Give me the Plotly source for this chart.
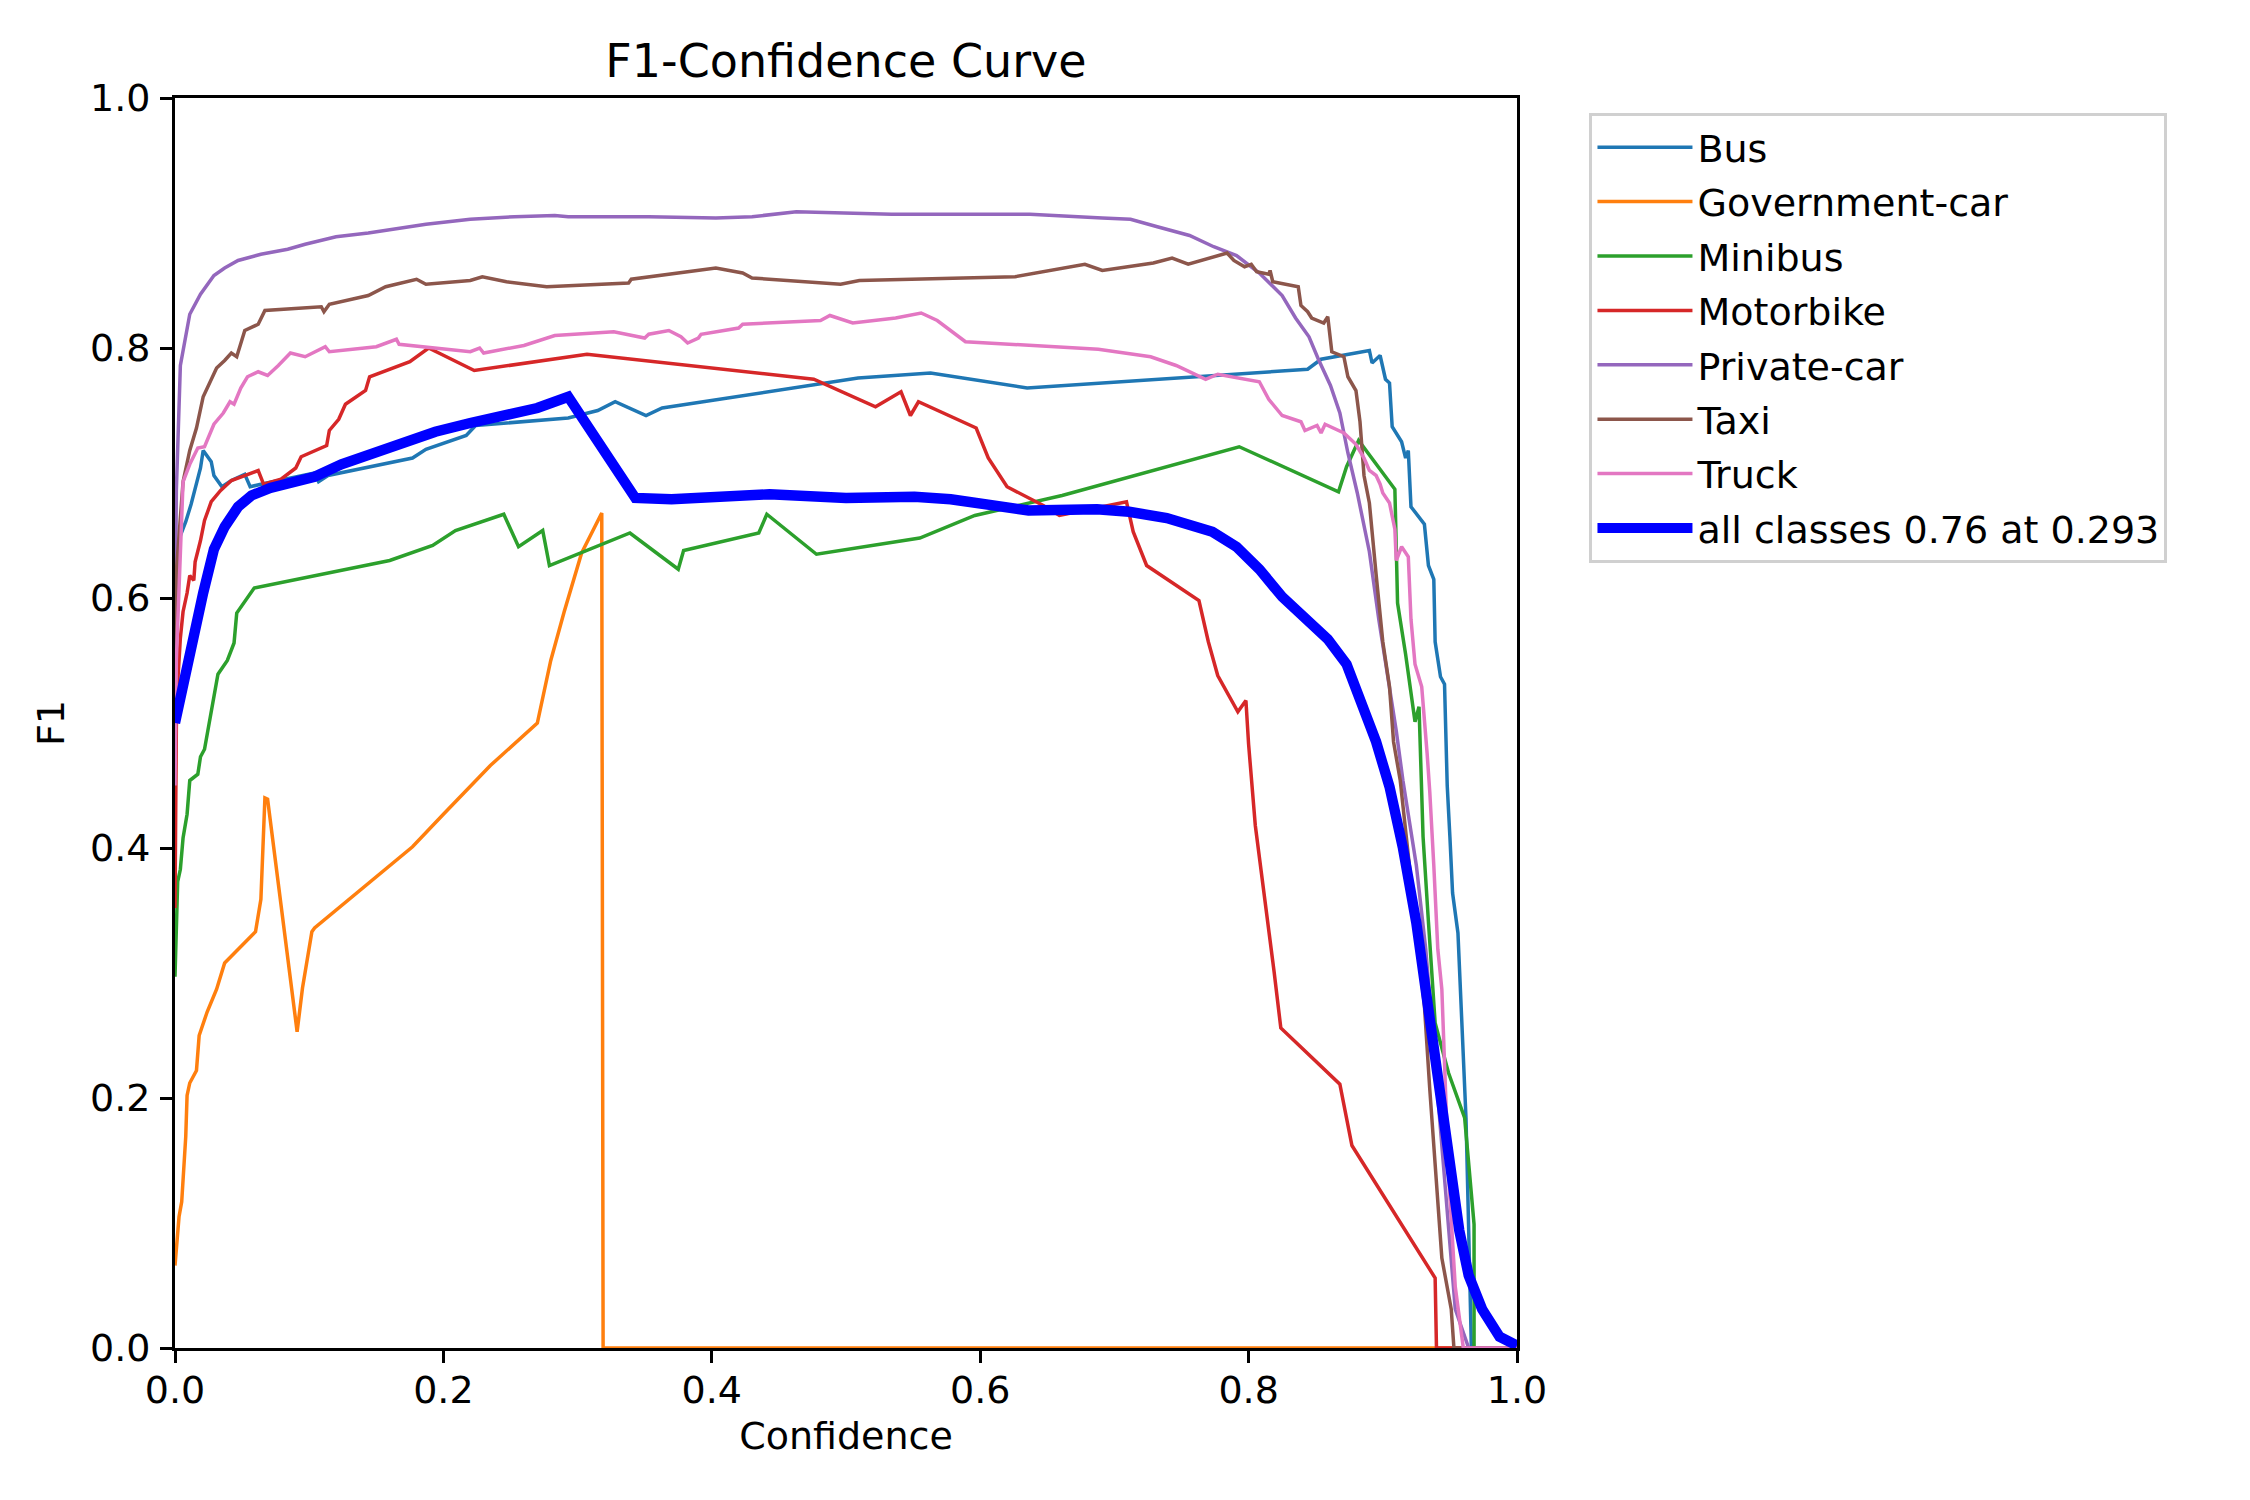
import plotly.graph_objects as go

# ---- data (confidence, F1) ----
BUS = [(0.0,0.58),(0.001,0.604),(0.004,0.650),(0.008,0.661),(0.012,0.675),(0.016,0.693),(0.019,0.704),(0.021,0.718),(0.027,0.709),(0.029,0.698),(0.035,0.689),(0.042,0.694),(0.052,0.699),(0.056,0.689),(0.064,0.691),(0.104,0.700),(0.107,0.693),(0.114,0.698),(0.177,0.712),(0.187,0.719),(0.217,0.730),(0.224,0.738),(0.293,0.744),(0.315,0.750),(0.328,0.757),(0.351,0.746),(0.363,0.752),(0.509,0.776),(0.563,0.780),(0.635,0.768),(0.844,0.783),(0.854,0.791),(0.890,0.798),(0.892,0.788),(0.898,0.794),(0.902,0.775),(0.905,0.772),(0.907,0.737),(0.914,0.725),(0.917,0.712),(0.919,0.718),(0.921,0.673),(0.931,0.659),(0.934,0.626),(0.938,0.615),(0.939,0.565),(0.943,0.537),(0.946,0.531),(0.948,0.45),(0.950,0.409),(0.952,0.364),(0.956,0.332),(0.959,0.251),(0.962,0.184),(0.964,0.094),(0.966,0.0),(1.0,0.0)]

GOVERNMENT_CAR = [(0.0,0.066),(0.003,0.105),(0.005,0.117),(0.008,0.169),(0.009,0.202),(0.011,0.212),(0.016,0.222),(0.018,0.250),(0.024,0.269),(0.031,0.287),(0.037,0.308),(0.060,0.333),(0.064,0.359),(0.067,0.440),(0.069,0.439),(0.091,0.253),(0.095,0.288),(0.102,0.333),(0.104,0.336),(0.177,0.401),(0.200,0.427),(0.235,0.466),(0.270,0.500),(0.280,0.550),(0.290,0.589),(0.303,0.636),(0.318,0.668),(0.319,0.0),(1.0,0.0)]

MINIBUS = [(0.0,0.297),(0.002,0.373),(0.004,0.383),(0.006,0.408),(0.009,0.427),(0.011,0.454),(0.017,0.459),(0.019,0.473),(0.022,0.479),(0.024,0.491),(0.027,0.511),(0.032,0.539),(0.039,0.550),(0.044,0.564),(0.046,0.588),(0.059,0.608),(0.160,0.630),(0.192,0.642),(0.209,0.654),(0.245,0.667),(0.256,0.641),(0.274,0.654),(0.279,0.626),(0.339,0.652),(0.375,0.623),(0.379,0.638),(0.435,0.652),(0.441,0.667),(0.478,0.635),(0.555,0.648),(0.596,0.666),(0.661,0.682),(0.793,0.721),(0.867,0.685),(0.873,0.705),(0.882,0.726),(0.909,0.687),(0.911,0.596),(0.917,0.555),(0.924,0.501),(0.927,0.513),(0.930,0.409),(0.934,0.341),(0.939,0.260),(0.949,0.220),(0.961,0.184),(0.968,0.099),(0.968,0.0),(1.0,0.0)]

MOTORBIKE = [(0.0,0.352),(0.001,0.497),(0.002,0.532),(0.004,0.568),(0.006,0.589),(0.009,0.604),(0.011,0.618),(0.014,0.614),(0.015,0.629),(0.019,0.646),(0.022,0.662),(0.027,0.677),(0.034,0.686),(0.042,0.694),(0.062,0.702),(0.066,0.691),(0.079,0.695),(0.090,0.704),(0.094,0.713),(0.113,0.722),(0.115,0.734),(0.122,0.743),(0.127,0.755),(0.142,0.766),(0.145,0.777),(0.175,0.789),(0.189,0.800),(0.223,0.782),(0.307,0.795),(0.476,0.775),(0.522,0.753),(0.541,0.765),(0.548,0.746),(0.554,0.757),(0.597,0.736),(0.606,0.712),(0.620,0.689),(0.647,0.674),(0.659,0.666),(0.709,0.677),(0.714,0.653),(0.724,0.626),(0.763,0.598),(0.770,0.565),(0.777,0.538),(0.792,0.509),(0.798,0.518),(0.800,0.483),(0.805,0.418),(0.814,0.346),(0.819,0.301),(0.824,0.256),(0.868,0.211),(0.877,0.162),(0.939,0.056),(0.940,0.0),(1.0,0.0)]

PRIVATE_CAR = [(0.0,0.55),(0.001,0.686),(0.004,0.786),(0.011,0.827),(0.019,0.843),(0.029,0.858),(0.037,0.864),(0.047,0.870),(0.064,0.875),(0.084,0.879),(0.097,0.883),(0.120,0.889),(0.144,0.892),(0.164,0.895),(0.187,0.899),(0.220,0.903),(0.253,0.905),(0.283,0.906),(0.293,0.905),(0.353,0.905),(0.403,0.904),(0.430,0.905),(0.463,0.909),(0.534,0.907),(0.637,0.907),(0.691,0.904),(0.712,0.903),(0.732,0.897),(0.756,0.890),(0.774,0.881),(0.791,0.874),(0.808,0.860),(0.825,0.842),(0.835,0.824),(0.845,0.809),(0.852,0.791),(0.861,0.770),(0.868,0.748),(0.874,0.716),(0.881,0.684),(0.890,0.637),(0.897,0.583),(0.905,0.529),(0.910,0.494),(0.915,0.454),(0.925,0.386),(0.932,0.319),(0.939,0.229),(0.944,0.162),(0.949,0.094),(0.954,0.031),(0.964,0.0),(1.0,0.0)]

TAXI = [(0.0,0.5),(0.001,0.621),(0.006,0.693),(0.011,0.718),(0.016,0.736),(0.021,0.761),(0.031,0.784),(0.037,0.790),(0.042,0.796),(0.046,0.793),(0.052,0.814),(0.062,0.819),(0.067,0.830),(0.109,0.833),(0.111,0.829),(0.115,0.835),(0.144,0.842),(0.157,0.849),(0.180,0.855),(0.187,0.851),(0.220,0.854),(0.229,0.857),(0.247,0.853),(0.277,0.849),(0.338,0.852),(0.340,0.855),(0.403,0.864),(0.423,0.860),(0.430,0.856),(0.496,0.851),(0.510,0.854),(0.626,0.857),(0.678,0.867),(0.691,0.862),(0.729,0.868),(0.743,0.872),(0.755,0.867),(0.784,0.876),(0.789,0.870),(0.797,0.865),(0.802,0.867),(0.806,0.861),(0.815,0.859),(0.816,0.862),(0.818,0.853),(0.837,0.849),(0.839,0.834),(0.844,0.829),(0.847,0.824),(0.856,0.820),(0.859,0.825),(0.862,0.797),(0.871,0.793),(0.874,0.777),(0.880,0.766),(0.883,0.741),(0.886,0.698),(0.890,0.676),(0.895,0.619),(0.900,0.565),(0.905,0.529),(0.908,0.485),(0.913,0.454),(0.922,0.364),(0.931,0.274),(0.935,0.207),(0.938,0.162),(0.944,0.072),(0.951,0.031),(0.953,0.0),(1.0,0.0)]

TRUCK = [(0.0,0.45),(0.001,0.550),(0.006,0.693),(0.011,0.707),(0.017,0.720),(0.022,0.721),(0.029,0.739),(0.036,0.748),(0.041,0.757),(0.044,0.755),(0.049,0.768),(0.054,0.777),(0.062,0.781),(0.066,0.779),(0.069,0.778),(0.077,0.786),(0.086,0.796),(0.097,0.793),(0.112,0.801),(0.115,0.797),(0.150,0.801),(0.165,0.807),(0.167,0.803),(0.220,0.797),(0.227,0.800),(0.230,0.796),(0.260,0.802),(0.283,0.810),(0.327,0.813),(0.350,0.808),(0.353,0.811),(0.368,0.814),(0.377,0.809),(0.382,0.804),(0.390,0.808),(0.392,0.811),(0.420,0.816),(0.423,0.819),(0.481,0.822),(0.488,0.826),(0.505,0.820),(0.537,0.824),(0.556,0.828),(0.568,0.822),(0.589,0.805),(0.688,0.799),(0.727,0.793),(0.746,0.786),(0.768,0.775),(0.777,0.779),(0.808,0.773),(0.815,0.759),(0.825,0.746),(0.839,0.741),(0.842,0.734),(0.851,0.738),(0.854,0.732),(0.857,0.739),(0.871,0.732),(0.880,0.723),(0.886,0.712),(0.890,0.702),(0.895,0.698),(0.898,0.691),(0.900,0.684),(0.905,0.676),(0.909,0.655),(0.910,0.630),(0.914,0.641),(0.919,0.633),(0.921,0.583),(0.924,0.547),(0.929,0.529),(0.933,0.476),(0.935,0.445),(0.938,0.386),(0.941,0.319),(0.944,0.287),(0.947,0.207),(0.949,0.139),(0.954,0.049),(0.960,0.0),(1.0,0.0)]

ALL_CLASSES = [(0.0,0.50),(0.011,0.557),(0.021,0.604),(0.029,0.639),(0.037,0.657),(0.047,0.673),(0.057,0.682),(0.071,0.688),(0.087,0.693),(0.104,0.697),(0.124,0.707),(0.144,0.715),(0.167,0.724),(0.194,0.733),(0.220,0.740),(0.247,0.746),(0.270,0.752),(0.293,0.761),(0.307,0.739),(0.323,0.714),(0.333,0.698),(0.343,0.680),(0.370,0.679),(0.403,0.681),(0.443,0.683),(0.500,0.680),(0.551,0.681),(0.578,0.679),(0.636,0.670),(0.687,0.671),(0.711,0.669),(0.739,0.664),(0.773,0.653),(0.791,0.641),(0.808,0.623),(0.825,0.601),(0.842,0.583),(0.859,0.567),(0.873,0.547),(0.883,0.519),(0.895,0.485),(0.905,0.449),(0.915,0.400),(0.925,0.340),(0.934,0.270),(0.942,0.200),(0.949,0.142),(0.957,0.094),(0.964,0.058),(0.974,0.031),(0.987,0.009),(1.0,0.002)]

CLASS_NAMES = ["Bus", "Government-car", "Minibus", "Motorbike", "Private-car", "Taxi", "Truck"]
CLASS_DATA = [BUS, GOVERNMENT_CAR, MINIBUS, MOTORBIKE, PRIVATE_CAR, TAXI, TRUCK]
COLORS = ["#1f77b4", "#ff7f0e", "#2ca02c", "#d62728", "#9467bd", "#8c564b", "#e377c2"]
ALL_LABEL = "all classes 0.76 at 0.293"
TICKS = [0.0, 0.2, 0.4, 0.6, 0.8, 1.0]

FONT = "DejaVu Sans"
FS = 38
W, H = 2250, 1500
# page body adds an 8px offset; margins compensate so the axes sit at 175..1517 x 98..1347
L, R, T, B = 167, 741, 90, 160

fig = go.Figure()
for i, (name, pts, col) in enumerate(zip(CLASS_NAMES, CLASS_DATA, COLORS)):
    fig.add_trace(go.Scatter(x=[p[0] for p in pts], y=[p[1] for p in pts], mode="lines",
                             name=name, legendgroup=f"g{i}",
                             line=dict(color=col, width=3.5)))
fig.add_trace(go.Scatter(x=[p[0] for p in ALL_CLASSES], y=[p[1] for p in ALL_CLASSES],
                         mode="lines", name=ALL_LABEL, legendgroup="gall",
                         line=dict(color="#0000ff", width=10.4)))

axis_common = dict(
    range=[0, 1], tickvals=TICKS, tickformat=".1f",
    showgrid=False, zeroline=False,
    showline=True, linecolor="black", linewidth=2.8, mirror=True,
    ticks="outside", ticklen=12, tickwidth=2.8, tickcolor="black",
    tickfont=dict(family=FONT, size=FS, color="black"),
    automargin=False,
)

fig.update_layout(
    width=W, height=H,
    margin=dict(l=L, r=R, t=T, b=B, autoexpand=False),
    paper_bgcolor="white", plot_bgcolor="white",
    font=dict(family=FONT, size=FS, color="black"),
    title=dict(text="F1-Confidence Curve", x=0.5, xref="paper", xanchor="center",
               y=1 - 53 / H, yanchor="middle", yref="container",
               font=dict(family=FONT, size=46, color="black")),
    xaxis=dict(**axis_common, title=dict(text="Confidence", standoff=12,
                                         font=dict(family=FONT, size=FS))),
    yaxis=dict(**axis_common, title=dict(text="F1", standoff=14,
                                         font=dict(family=FONT, size=FS))),
    legend=dict(x=1.054, y=0.988, xanchor="left", yanchor="top",
                bgcolor="white", bordercolor="#d0d0d0", borderwidth=3,
                font=dict(family=FONT, size=FS, color="black"),
                tracegroupgap=2, itemwidth=95),
    showlegend=True,
)
fig.update_xaxes(ticklabelstandoff=-6)
fig.update_yaxes(ticklabelstandoff=2)

fig.write_html("out.html")
